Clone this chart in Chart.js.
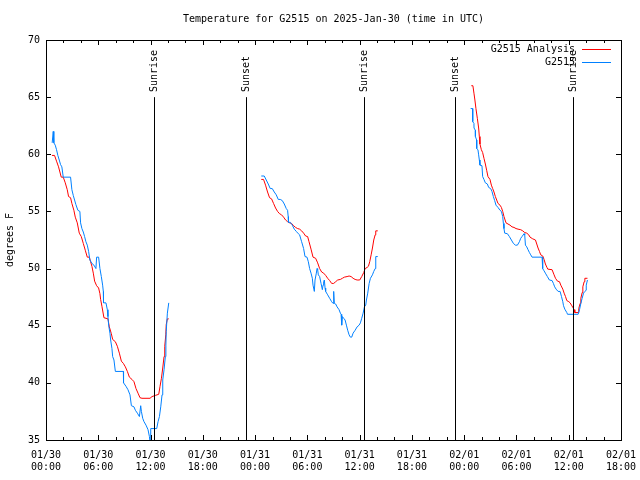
<!DOCTYPE html>
<html>
<head>
<meta charset="utf-8">
<script src="https://cdn.jsdelivr.net/npm/chart.js@4/dist/chart.umd.min.js"></script>
<style>
html, body { margin: 0; padding: 0; background: #fff; }
canvas { display: block; }
</style>
</head>
<body>
<canvas id="chart" width="640" height="480"></canvas>
<script>
// hours since 2025-01-30 00:00 UTC, null = no data
const analysisHours = [
    0.68, 0.98, 1.21, 1.44, 1.75, 1.98, 2.21, 2.44, 2.59, 2.82, 2.97, 3.2, 3.36, 3.59, 3.82, 4.05,
    4.28, 4.51, 4.74, 4.97, 5.12, 5.27, 5.43, 5.58, 5.81, 6.04, 6.19, 6.27, 6.42, 6.65, 7.11, 7.27,
    7.5, 7.65, 7.96, 8.19, 8.42, 8.65, 8.88, 9.11, 9.34, 9.57, 9.87, 10.1, 10.33, 10.56, 10.79, 11.02,
    11.94, 12.17, 12.55, 12.94, 13.09, 13.25, 13.4, 13.55, 13.63, 13.75, 13.8, 13.93, 14.09,
    20,
    24.71, 24.97, 25.2, 25.43, 25.66, 25.89, 26.12, 26.35, 26.58, 26.81, 27.04, 27.27, 27.5, 27.73,
    27.96, 28.19, 28.42, 28.65, 28.88, 29.11, 29.34, 29.57, 29.8, 30.03, 30.19, 30.42, 30.65, 30.95,
    31.18, 31.41, 31.64, 31.87, 32.1, 32.33, 32.56, 32.79, 33.02, 33.25, 33.48, 33.79, 34.02, 34.25,
    34.56, 34.79, 35.02, 35.25, 35.48, 35.71, 36.01, 36.24, 36.47, 36.63, 36.86, 37.01, 37.16, 37.32,
    37.47, 37.62, 37.78, 37.85, 38.08,
    44,
    48.82, 49.0, 49.12, 49.23, 49.35, 49.51, 49.66, 49.74, 49.81, 49.97, 50.12, 50.27, 50.43, 50.58,
    50.73, 50.96, 51.12, 51.27, 51.42, 51.58, 51.73, 51.88, 52.11, 52.27, 52.42, 52.57, 52.8, 53.03,
    53.26, 53.49, 53.72, 53.95, 54.18, 54.49, 54.72, 54.95, 55.18, 55.41, 55.56, 55.87, 56.18, 56.33,
    56.48, 56.64, 56.79, 57.02, 57.17, 57.32, 57.5, 57.6, 58.09, 58.32, 58.48, 58.71, 58.94, 59.09,
    59.32, 59.47, 59.63, 59.78, 60.01, 60.16, 60.32, 60.47, 60.62, 60.7, 61.08, 61.15, 61.31, 61.39,
    61.54, 61.62, 61.77, 61.85, 62.15
];
const analysisTemps = [
    59.9, 59.9, 59.4, 58.9, 58.0, 58.0, 57.5, 56.9, 56.3, 56.2, 55.7, 55.1, 54.5, 54.0, 53.1, 52.8,
    52.2, 51.6, 51.0, 51.0, 50.6, 50.2, 49.6, 48.9, 48.5, 48.3, 47.8, 47.3, 46.7, 45.7, 45.6, 44.9,
    44.3, 43.8, 43.6, 43.2, 42.6, 41.9, 41.7, 41.4, 41.0, 40.5, 40.3, 40.1, 39.5, 39.1, 38.7, 38.65,
    38.65, 38.8, 38.9, 39.0, 39.7, 40.4, 41.3, 42.3, 43.2, 44.2, 45.1, 45.6, 45.6,
    null,
    57.8, 57.8, 57.3, 56.7, 56.2, 56.1, 55.7, 55.3, 55.0, 54.8, 54.7, 54.5, 54.25, 54.1,
    54.0, 53.95, 53.75, 53.6, 53.5, 53.45, 53.3, 53.1, 52.85, 52.8, 52.35, 51.7, 51.0, 50.9,
    50.5, 50.0, 49.7, 49.6, 49.4, 49.15, 48.95, 48.7, 48.7, 48.85, 49.0, 49.05, 49.15, 49.25,
    49.3, 49.35, 49.3, 49.15, 49.05, 49.0, 49.0, 49.3, 49.65, 50.0, 50.1, 50.2, 50.6, 51.2,
    51.8, 52.5, 52.95, 53.3, 53.3,
    null,
    66.0, 66.0, 65.35, 64.75, 64.0, 63.15, 62.3, 61.55, 60.9, 60.4, 60.15, 59.65, 59.15, 58.6,
    58.05, 57.8, 57.3, 57.0, 56.7, 56.3, 56.0, 55.7, 55.55, 55.35, 55.0, 54.55, 54.0, 53.9,
    53.8, 53.65, 53.6, 53.5, 53.45, 53.4, 53.3, 53.15, 53.1, 52.95, 52.75, 52.6, 52.5, 52.15,
    51.8, 51.5, 51.2, 51.1, 50.8, 50.4, 50.1, 49.95, 49.9, 49.45, 49.15, 48.9, 48.85, 48.55,
    48.2, 47.85, 47.55, 47.2, 47.1, 47.0, 46.8, 46.6, 46.4, 46.15, 46.15, 46.5, 46.95, 47.4,
    47.9, 48.4, 48.85, 49.15, 49.15
];

const stationHours = [
    0.71, 0.83, 0.9, 1.06, 1.21, 1.36, 1.52, 1.67, 1.82, 1.98, 2.82, 2.97, 3.13, 3.28, 3.43, 3.66,
    3.89, 3.97, 4.12, 4.28, 4.43, 4.58, 4.74, 4.89, 5.04, 5.27, 5.5, 5.73, 5.81, 6.04, 6.19, 6.35,
    6.5, 6.58, 6.6, 6.88, 7.04, 7.11, 7.19, 7.34, 7.42, 7.57, 7.65, 7.8, 7.96, 8.88, 8.9, 9.18,
    9.41, 9.64, 9.8, 10.1, 10.26, 10.49, 10.72, 10.87, 10.95, 11.1, 11.25, 11.48, 11.71, 11.87,
    11.94, 12.02, 12.71, 12.86, 13.02, 13.17, 13.32, 13.4, 13.55, 13.7, 13.76, 13.8, 13.93, 14.09,
    20,
    24.71, 25.05, 25.28, 25.51, 25.74, 25.97, 26.2, 26.43, 26.66, 26.89, 27.12, 27.35, 27.58, 27.73,
    27.8, 27.83, 28.04, 28.27, 28.5, 28.73, 28.96, 29.11, 29.34, 29.57, 29.73, 29.96, 30.11, 30.26,
    30.42, 30.57, 30.65, 30.8, 30.88, 31.03, 31.11, 31.18, 31.26, 31.41, 31.57, 31.72, 31.8, 31.87,
    31.95, 32.03, 32.1, 32.33, 32.56, 32.79, 32.95, 33.02, 33.1, 33.25, 33.41, 33.64, 33.79, 33.87,
    33.94, 34.02, 34.17, 34.33, 34.48, 34.63, 34.79, 34.94, 35.09, 35.25, 35.48, 35.71, 35.94, 36.09,
    36.24, 36.4, 36.55, 36.7, 36.78, 36.93, 37.09, 37.24, 37.47, 37.62, 37.78, 37.85, 38.08,
    44,
    48.74, 48.97, 48.98, 49.12, 49.13, 49.28, 49.29, 49.43, 49.44, 49.58, 49.66, 49.74, 49.81, 50.04,
    50.12, 50.27, 50.43, 50.66, 50.81, 51.04, 51.19, 51.35, 51.5, 51.65, 51.88, 52.11, 52.27, 52.42,
    52.5, 52.57, 52.65, 52.96, 53.19, 53.42, 53.65, 53.88, 54.11, 54.34, 54.49, 54.64, 54.87, 54.95,
    55.03, 55.18, 55.33, 55.49, 55.64, 55.79, 56.94, 57.0, 57.02, 57.17, 57.32, 57.55, 57.78, 58.09,
    58.24, 58.39, 58.55, 58.78, 59.01, 59.17, 59.32, 59.4, 59.55, 59.78, 59.86, 61.08, 61.24, 61.39,
    61.54, 61.7, 61.85, 62.0, 62.01, 62.15
];
const stationTemps = [
    61.0, 62.0, 61.0, 60.8, 60.4, 59.9, 59.5, 59.1, 58.9, 58.0, 58.0, 56.9, 56.4, 56.0, 55.6, 55.1,
    55.0, 54.0, 53.5, 53.2, 52.8, 52.35, 52.05, 51.5, 50.75, 50.45, 50.3, 50.0, 51.0, 51.0, 50.0, 49.3,
    48.55, 48.0, 47.0, 47.0, 46.4, 45.8, 45.05, 44.35, 43.75, 43.0, 42.3, 42.0, 41.0, 41.0, 40.0, 39.7,
    39.4, 38.95, 38.0, 37.9, 37.6, 37.35, 37.05, 38.0, 37.5, 36.9, 36.6, 36.3, 35.9, 35.3,
    34.8, 36.0, 36.0, 36.6, 37.05, 37.9, 38.95, 40.25, 41.15, 42.3, 43.3, 44.5, 46.1, 47.0,
    null,
    58.1, 58.1, 57.75, 57.4, 57.0, 57.0, 56.7, 56.45, 56.05, 56.05, 55.95, 55.65, 55.25, 55.1,
    54.55, 54.05, 54.05, 53.8, 53.45, 53.25, 53.05, 52.95, 52.35, 51.75, 51.05, 51.0, 50.6, 50.0,
    49.6, 49.15, 48.55, 48.0, 49.0, 49.6, 50.0, 49.9, 49.45, 49.3, 48.7, 48.15, 48.55, 48.85,
    49.0, 48.3, 48.0, 47.7, 47.4, 47.1, 46.95, 48.0, 46.95, 46.9, 46.65, 46.4, 46.1, 46.0,
    45.05, 45.8, 45.65, 45.5, 45.05, 44.6, 44.2, 44.0, 44.0, 44.35, 44.6, 44.9, 45.05, 45.25,
    45.65, 46.1, 46.65, 46.8, 47.25, 47.85, 48.7, 49.15, 49.45, 49.75, 50.0, 51.05, 51.05,
    null,
    64.0, 64.0, 62.85, 62.7, 62.3, 62.1, 61.55, 61.25, 60.5, 60.4, 59.95, 59.5, 59.05, 59.0,
    58.05, 57.8, 57.5, 57.4, 57.1, 57.0, 56.75, 56.3, 55.95, 55.55, 55.35, 55.1, 55.0, 54.55,
    53.95, 53.5, 53.1, 53.05, 52.8, 52.5, 52.2, 52.05, 52.05, 52.35, 52.65, 52.8, 53.05, 52.95,
    52.05, 51.9, 51.65, 51.4, 51.2, 51.0, 51.0, 50.45, 50.0, 49.8, 49.6, 49.3, 49.0, 48.95,
    48.7, 48.4, 48.2, 48.0, 48.0, 47.55, 47.1, 46.75, 46.45, 46.15, 46.0, 46.0, 46.4, 46.95,
    47.4, 47.85, 48.0, 48.1, 48.55, 49.0
];

const sunTimes = [12.45, 22.9, 36.5, 46.92, 60.5];
const sunLabels = ['Sunrise', 'Sunset', 'Sunrise', 'Sunset', 'Sunrise'];

const seriesNames = ['G2515 Analysis', 'G2515'];
const seriesColors = ['#ff0000', '#0080ff'];

const chartTitle = 'Temperature for G2515 on 2025-Jan-30 (time in UTC)';
const yTitle = 'degrees F';
const startUTC = Date.UTC(2025, 0, 30);

const MONO = '"DejaVu Sans Mono", monospace';

function pad2(n) {
    return (n < 10 ? '0' : '') + n;
}

function tickLabel(h) {
    const d = new Date(startUTC + h * 3600 * 1000);
    return [pad2(d.getUTCMonth() + 1) + '/' + pad2(d.getUTCDate()),
            pad2(d.getUTCHours()) + ':' + pad2(d.getUTCMinutes())];
}

function toPoints(hours, temps) {
    return hours.map((h, i) => ({x: h, y: temps[i]}));
}

const decor = {
    id: 'decor',
    afterDraw(chart) {
        const ctx = chart.ctx;
        const a = chart.chartArea;
        const x = chart.scales.x;
        const y = chart.scales.y;
        ctx.save();
        ctx.strokeStyle = '#000';
        ctx.fillStyle = '#000';
        ctx.lineWidth = 1;

        // frame
        ctx.strokeRect(Math.round(a.left) + 0.5, Math.round(a.top) + 0.5,
            Math.round(a.right - a.left), Math.round(a.bottom - a.top));

        // inward ticks
        ctx.beginPath();
        for (let h = 0; h <= 66; h += 2) {
            const px = Math.round(x.getPixelForValue(h)) + 0.5;
            const len = h % 6 === 0 ? 5 : 3;
            ctx.moveTo(px, a.bottom); ctx.lineTo(px, a.bottom - len);
            ctx.moveTo(px, a.top); ctx.lineTo(px, a.top + len);
        }
        for (let t = 35; t <= 70; t += 5) {
            const py = Math.round(y.getPixelForValue(t)) + 0.5;
            ctx.moveTo(a.left, py); ctx.lineTo(a.left + 5, py);
            ctx.moveTo(a.right, py); ctx.lineTo(a.right - 5, py);
        }
        ctx.stroke();

        // sunrise / sunset markers
        ctx.font = '10px ' + MONO;
        sunTimes.forEach((t, i) => {
            const px = Math.round(x.getPixelForValue(t)) + 0.5;
            ctx.beginPath();
            ctx.moveTo(px, y.getPixelForValue(65));
            ctx.lineTo(px, a.bottom);
            ctx.stroke();
            ctx.save();
            ctx.translate(px, 92);
            ctx.rotate(-Math.PI / 2);
            ctx.textAlign = 'left';
            ctx.textBaseline = 'middle';
            ctx.fillText(sunLabels[i], 0, 0);
            ctx.restore();
        });

        // title
        ctx.textAlign = 'center';
        ctx.textBaseline = 'middle';
        ctx.fillText(chartTitle, (a.left + a.right) / 2, 19);

        // y axis title
        ctx.save();
        ctx.translate(10, 240);
        ctx.rotate(-Math.PI / 2);
        ctx.fillText(yTitle, 0, 0);
        ctx.restore();

        // legend
        ctx.textAlign = 'right';
        seriesNames.forEach((name, i) => {
            const ly = 49 + i * 13;
            ctx.fillStyle = '#000';
            ctx.fillText(name, 575, ly);
            ctx.strokeStyle = seriesColors[i];
            ctx.beginPath();
            ctx.moveTo(582, ly + 0.5);
            ctx.lineTo(611, ly + 0.5);
            ctx.stroke();
        });
        ctx.restore();
    }
};

const config = {
    type: 'line',
    data: {
        datasets: [
            {
                label: seriesNames[0],
                data: toPoints(analysisHours, analysisTemps),
                borderColor: seriesColors[0],
                borderWidth: 1,
                pointRadius: 0,
                tension: 0,
                spanGaps: false,
                order: 2,
            },
            {
                label: seriesNames[1],
                data: toPoints(stationHours, stationTemps),
                borderColor: seriesColors[1],
                borderWidth: 1,
                pointRadius: 0,
                tension: 0,
                spanGaps: false,
                order: 1,
            }
        ]
    },
    options: {
        responsive: false,
        animation: false,
        devicePixelRatio: 1,
        layout: {
            padding: {left: 0, top: 40, right: 19, bottom: 0}
        },
        plugins: {
            legend: {display: false},
            title: {display: false},
            tooltip: {enabled: false}
        },
        scales: {
            x: {
                type: 'linear',
                min: 0,
                max: 66,
                border: {display: false},
                grid: {display: false, drawTicks: false},
                ticks: {
                    stepSize: 2,
                    autoSkip: false,
                    maxRotation: 0,
                    minRotation: 0,
                    padding: 9,
                    color: '#000',
                    font: {family: MONO, size: 10, lineHeight: 1.2},
                    callback: (v) => {
                        const h = Math.round(v);
                        return h % 6 === 0 ? tickLabel(h) : '';
                    }
                },
                // fixed height, and no extra room for the end labels
                afterFit: (scale) => {
                    scale.height = 40;
                    scale.paddingLeft = 0;
                    scale.paddingRight = 0;
                }
            },
            y: {
                min: 35,
                max: 70,
                border: {display: false},
                grid: {display: false, drawTicks: false},
                ticks: {
                    stepSize: 5,
                    padding: 6,
                    color: '#000',
                    font: {family: MONO, size: 10}
                },
                afterFit: (scale) => {
                    scale.width = 46;
                    scale.paddingTop = 0;
                    scale.paddingBottom = 0;
                }
            }
        }
    },
    plugins: [decor]
};

let myChart = new Chart(document.getElementById('chart'), config);
</script>
</body>
</html>
